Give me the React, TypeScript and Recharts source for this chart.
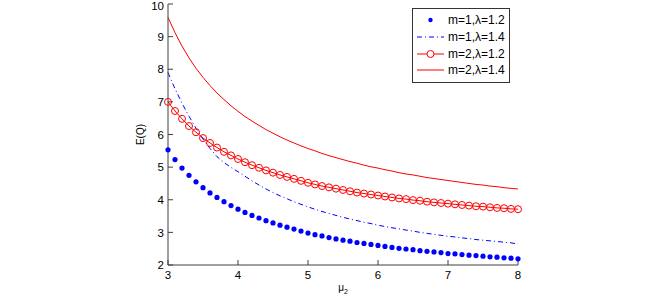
import { Line, LineChart, XAxis, YAxis } from 'recharts';

// mu_2 sampled every 0.1 from 3 to 8
const mu2 = [
  3.0, 3.1, 3.2, 3.3, 3.4, 3.5, 3.6, 3.7, 3.8, 3.9, 4.0, 4.1, 4.2, 4.3, 4.4, 4.5, 4.6,
  4.7, 4.8, 4.9, 5.0, 5.1, 5.2, 5.3, 5.4, 5.5, 5.6, 5.7, 5.8, 5.9, 6.0, 6.1, 6.2, 6.3,
  6.4, 6.5, 6.6, 6.7, 6.8, 6.9, 7.0, 7.1, 7.2, 7.3, 7.4, 7.5, 7.6, 7.7, 7.8, 7.9, 8.0,
];

// m=1, lambda=1.2
const m1l12 = [
  5.53, 5.23, 4.97, 4.75, 4.55, 4.37, 4.21, 4.07, 3.94, 3.82, 3.71, 3.61, 3.52, 3.44,
  3.36, 3.29, 3.22, 3.16, 3.1, 3.04, 2.98, 2.93, 2.89, 2.84, 2.8, 2.76, 2.73, 2.69,
  2.66, 2.63, 2.6, 2.57, 2.54, 2.51, 2.49, 2.47, 2.44, 2.42, 2.4, 2.38, 2.35, 2.34,
  2.32, 2.3, 2.29, 2.27, 2.25, 2.24, 2.22, 2.21, 2.19,
];

// m=1, lambda=1.4
const m1l14 = [
  7.9, 7.4, 6.96, 6.56, 6.19, 5.86, 5.57, 5.32, 5.14, 4.99, 4.86, 4.72, 4.58, 4.45,
  4.33, 4.22, 4.12, 4.03, 3.94, 3.86, 3.78, 3.71, 3.64, 3.58, 3.52, 3.46, 3.41, 3.36,
  3.31, 3.27, 3.22, 3.18, 3.14, 3.11, 3.07, 3.04, 3.0, 2.97, 2.94, 2.91, 2.88, 2.86,
  2.83, 2.81, 2.78, 2.76, 2.74, 2.72, 2.7, 2.68, 2.64,
];

// m=2, lambda=1.2
const m2l12 = [
  7.0, 6.72, 6.48, 6.26, 6.07, 5.89, 5.74, 5.6, 5.47, 5.36, 5.25, 5.15, 5.06, 4.98,
  4.9, 4.83, 4.76, 4.7, 4.64, 4.58, 4.52, 4.47, 4.42, 4.38, 4.34, 4.3, 4.26, 4.22,
  4.19, 4.16, 4.13, 4.1, 4.07, 4.04, 4.02, 3.99, 3.97, 3.94, 3.92, 3.9, 3.88, 3.86,
  3.84, 3.82, 3.8, 3.79, 3.77, 3.75, 3.74, 3.72, 3.71,
];

// m=2, lambda=1.4
const m2l14 = [
  9.59, 9.12, 8.71, 8.35, 8.03, 7.75, 7.5, 7.27, 7.07, 6.88, 6.71, 6.55, 6.41, 6.28,
  6.15, 6.04, 5.93, 5.83, 5.74, 5.65, 5.57, 5.5, 5.42, 5.35, 5.29, 5.23, 5.17, 5.12,
  5.06, 5.01, 4.97, 4.92, 4.88, 4.83, 4.79, 4.76, 4.72, 4.68, 4.65, 4.62, 4.59, 4.56,
  4.53, 4.5, 4.47, 4.45, 4.42, 4.4, 4.37, 4.35, 4.33,
];

const xTicks = [3, 4, 5, 6, 7, 8];
const yTicks = [2, 3, 4, 5, 6, 7, 8, 9, 10];

const legendNames = ['m=1,λ=1.2', 'm=1,λ=1.4', 'm=2,λ=1.2', 'm=2,λ=1.4'];

const data = mu2.map((x, i) => ({
  x,
  a: m1l12[i],
  b: m1l14[i],
  c: m2l12[i],
  d: m2l14[i],
}));

const FONT = '"Liberation Sans", Arial, sans-serif';
const AXIS = '#404040';
const BLUE = '#0000ff';
const RED = '#ff0000';

const StarDot = (props: any) => {
  const { cx, cy } = props;
  if (cx == null || cy == null) return null;
  return <circle cx={cx} cy={cy} r={2.6} fill={BLUE} />;
};

const RingDot = (props: any) => {
  const { cx, cy } = props;
  if (cx == null || cy == null) return null;
  return <circle cx={cx} cy={cy} r={3.5} fill="none" stroke={RED} strokeWidth={1} />;
};

// left tick label; the top one ("10") is nudged so it is not clipped by the page edge
const YTick = (props: any) => {
  const { x, y, payload } = props;
  return (
    <text
      x={x}
      y={Math.max(y, 6)}
      dy="0.36em"
      textAnchor="end"
      fontSize={11.5}
      fontFamily={FONT}
      fill="#000">
      {payload.value}
    </text>
  );
};

const Sample = ({ i }: { i: number }) => (
  <svg width={27} height={10} style={{ display: 'block' }}>
    {i === 0 && <circle cx={13.5} cy={5} r={2.2} fill={BLUE} />}
    {i === 1 && (
      <line x1={0} y1={5} x2={27} y2={5} stroke={BLUE} strokeDasharray="5 3 1 3" />
    )}
    {i === 2 && (
      <>
        <line x1={0} y1={5} x2={27} y2={5} stroke={RED} />
        <circle cx={13.5} cy={5} r={3.5} fill="white" stroke={RED} />
      </>
    )}
    {i === 3 && <line x1={0} y1={5} x2={27} y2={5} stroke={RED} />}
  </svg>
);

const LegendBox = () => (
  <div
    style={{
      position: 'absolute',
      left: 412,
      top: 8,
      border: '1px solid #333',
      background: '#fff',
      padding: '3px 4px 3px 4px',
      fontFamily: FONT,
      fontSize: 12,
      color: '#000',
    }}>
    {legendNames.map((n, i) => (
      <div key={n} style={{ display: 'flex', alignItems: 'center', height: 16.7 }}>
        <Sample i={i} />
        <span style={{ marginLeft: 4, whiteSpace: 'nowrap' }}>{n}</span>
      </div>
    ))}
  </div>
);

const XLabel = (props: any) => {
  const vb = props.viewBox || {};
  return (
    <text
      x={vb.x + vb.width / 2}
      y={vb.y + 26}
      textAnchor="middle"
      fontFamily={FONT}
      fontSize={10}
      fill="#000">
      μ
      <tspan fontSize={7} dy={3}>
        2
      </tspan>
    </text>
  );
};

export default function App() {
  return (
    <div style={{ position: 'absolute', left: 0, top: 0, width: 660, height: 295, background: '#fff' }}>
      <LineChart
        width={660}
        height={295}
        data={data}
        margin={{ top: 4, right: 142, bottom: 0, left: 128 }}>
        <XAxis
          dataKey="x"
          type="number"
          domain={[3, 8]}
          ticks={xTicks}
          interval={0}
          height={30}
          stroke={AXIS}
          tickSize={-5}
          tickMargin={11}
          tick={{ fontSize: 11.5, fill: '#000', fontFamily: FONT }}
          label={<XLabel />}
        />
        <XAxis
          xAxisId="top"
          dataKey="x"
          type="number"
          orientation="top"
          domain={[3, 8]}
          ticks={xTicks}
          interval={0}
          height={0}
          stroke={AXIS}
          tickSize={-5}
          tickFormatter={() => ''}
        />
        <YAxis
          type="number"
          domain={[2, 10]}
          ticks={yTicks}
          interval={0}
          width={40}
          stroke={AXIS}
          tickSize={-5}
          tickMargin={9}
          tick={<YTick />}
          label={{
            value: 'E(Q)',
            angle: -90,
            position: 'insideLeft',
            offset: 12,
            style: { fontSize: 10, fill: '#000', fontFamily: FONT, textAnchor: 'middle' },
          }}
        />
        <YAxis
          yAxisId="right"
          orientation="right"
          type="number"
          domain={[2, 10]}
          ticks={yTicks}
          interval={0}
          width={0}
          stroke={AXIS}
          tickSize={-5}
          tickFormatter={() => ''}
        />
        <Line
          dataKey="d"
          name={legendNames[3]}
          stroke={RED}
          strokeWidth={1}
          dot={false}
          isAnimationActive={false}
        />
        <Line
          dataKey="c"
          name={legendNames[2]}
          stroke={RED}
          strokeWidth={1}
          dot={<RingDot />}
          isAnimationActive={false}
        />
        <Line
          dataKey="b"
          name={legendNames[1]}
          stroke={BLUE}
          strokeWidth={1}
          strokeDasharray="5 3 1 3"
          dot={false}
          isAnimationActive={false}
        />
        <Line
          dataKey="a"
          name={legendNames[0]}
          stroke="none"
          dot={<StarDot />}
          isAnimationActive={false}
        />
      </LineChart>
      <LegendBox />
    </div>
  );
}
